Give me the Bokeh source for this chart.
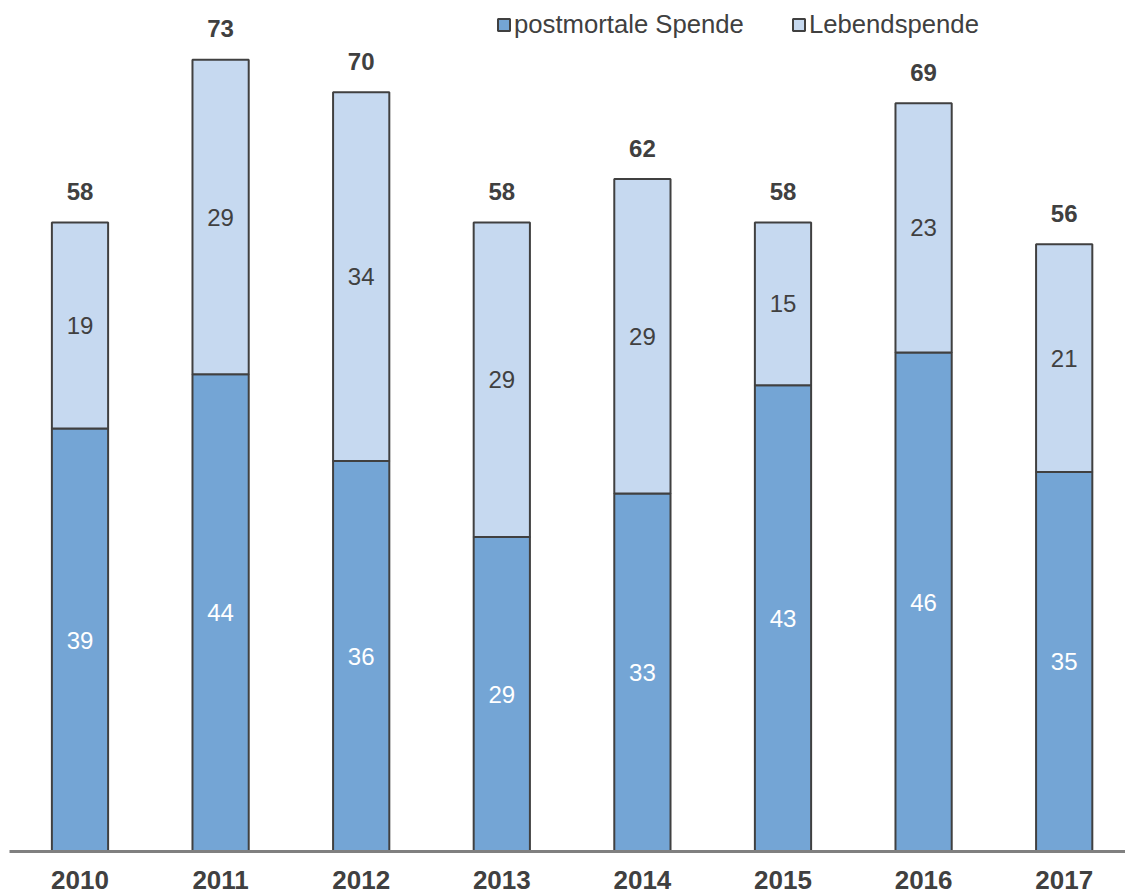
from bokeh.plotting import figure
from bokeh.models import ColumnDataSource, Range1d, FixedTicker, Legend, LegendItem
from bokeh.core.properties import value
from bokeh.embed import file_html
from bokeh.resources import INLINE

years = ["2010", "2011", "2012", "2013", "2014", "2015", "2016", "2017"]
postmortal = [39, 44, 36, 29, 33, 43, 46, 35]
lebend = [19, 29, 34, 29, 29, 15, 23, 21]
series_names = ["postmortale Spende", "Lebendspende"]

DARK = "#74A5D5"
LIGHT = "#C6D9F0"
EDGE = "#404040"
TXT = "#404040"
FONT = "Liberation Sans"

xs = list(range(len(years)))
totals = [a + b for a, b in zip(postmortal, lebend)]
src = ColumnDataSource(dict(
    x=xs, post=postmortal, leb=lebend, tot=totals,
    post_mid=[a / 2 for a in postmortal],
    leb_mid=[a + b / 2 for a, b in zip(postmortal, lebend)],
    post_lbl=[str(v) for v in postmortal],
    leb_lbl=[str(v) for v in lebend],
    tot_lbl=[str(v) for v in totals],
))

p = figure(width=1125, height=895, output_backend="svg", toolbar_location=None,
           x_range=Range1d(-0.5014, 7.436), y_range=Range1d(0, 77.73),
           min_border_left=9, min_border_right=0, min_border_top=8, min_border_bottom=44)
p.outline_line_color = None
p.grid.grid_line_color = None
p.yaxis.visible = False
p.background_fill_color = "white"

rs = p.vbar_stack(["post", "leb"], x="x", width=0.40, source=src,
                  fill_color=[DARK, LIGHT], line_color=EDGE, line_width=2)

p.text(x="x", y="post_mid", text="post_lbl", source=src, text_align="center",
       text_baseline="middle", text_color="white", text_font=value(FONT),
       text_font_size="24px")
p.text(x="x", y="leb_mid", text="leb_lbl", source=src, text_align="center",
       text_baseline="middle", text_color=TXT, text_font=value(FONT),
       text_font_size="24px")
p.text(x="x", y="tot", text="tot_lbl", source=src, text_align="center",
       text_baseline="middle", text_color=TXT, text_font=value(FONT),
       text_font_size="24px", text_font_style="bold", y_offset=-31)

ax = p.xaxis[0]
ax.ticker = FixedTicker(ticks=xs)
ax.major_label_overrides = {i: y for i, y in enumerate(years)}
ax.major_tick_line_color = None
ax.minor_tick_line_color = None
ax.major_tick_out = 0
ax.major_label_standoff = 19
ax.axis_line_color = "#808080"
ax.axis_line_width = 3
ax.major_label_text_font = FONT
ax.major_label_text_font_size = "26px"
ax.major_label_text_font_style = "bold"
ax.major_label_text_color = TXT

legend = Legend(items=[LegendItem(label=series_names[0], renderers=[rs[0]]),
                       LegendItem(label=series_names[1], renderers=[rs[1]])],
                orientation="horizontal", location=(487, 812),
                glyph_width=15, glyph_height=15, label_standoff=3, spacing=47,
                padding=0, margin=0, border_line_color=None,
                background_fill_alpha=0, label_text_font=FONT,
                label_text_font_size="25.7px", label_text_color=TXT,
                label_height=30)
p.add_layout(legend, "center")

open("out.html", "w").write(file_html(p, INLINE))
